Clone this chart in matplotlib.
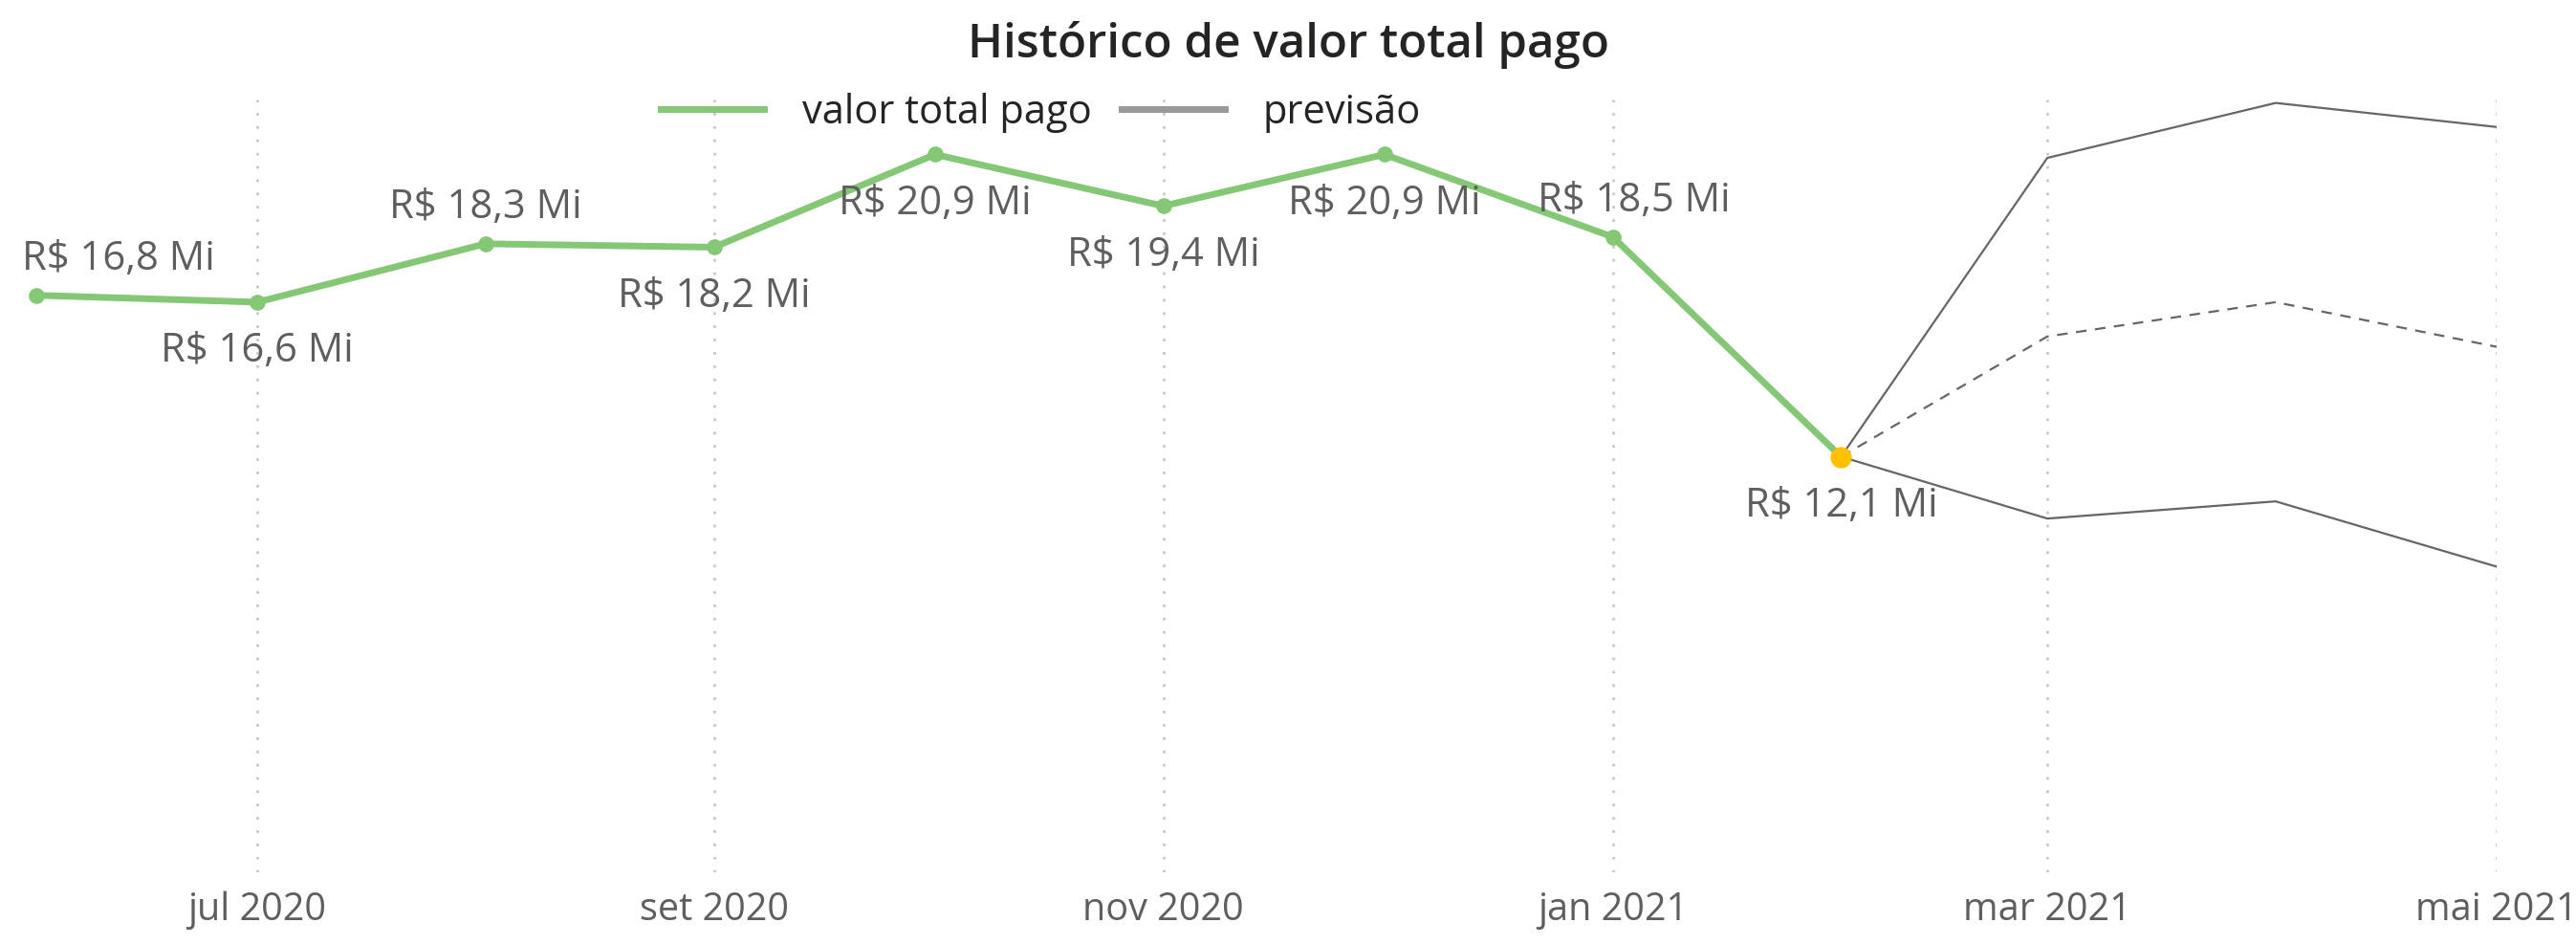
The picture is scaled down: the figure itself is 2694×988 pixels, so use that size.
import pandas as pd
import numpy as np
import matplotlib
matplotlib.use('Agg')
import matplotlib.pyplot as plt
import matplotlib.dates as mdates
from matplotlib.lines import Line2D

plt.rcParams['font.family'] = ['Open Sans', 'DejaVu Sans']

# dados (R$ milhões)
meses = pd.to_datetime(['2020-06-01', '2020-07-01', '2020-08-01', '2020-09-01', '2020-10-01',
                        '2020-11-01', '2020-12-01', '2021-01-01', '2021-02-01'])
valor_pago = [16.8, 16.6, 18.3, 18.2, 20.9, 19.4, 20.9, 18.5, 12.1]
rotulos = ['R$ 16,8 Mi', 'R$ 16,6 Mi', 'R$ 18,3 Mi', 'R$ 18,2 Mi', 'R$ 20,9 Mi',
           'R$ 19,4 Mi', 'R$ 20,9 Mi', 'R$ 18,5 Mi', 'R$ 12,1 Mi']

meses_prev = pd.to_datetime(['2021-02-01', '2021-03-01', '2021-04-01', '2021-05-01'])
prev_media = [12.1, 15.6, 16.6, 15.3]
prev_sup = [12.1, 20.8, 22.4, 21.7]
prev_inf = [12.1, 10.3, 10.8, 8.9]

ticks = pd.to_datetime(['2020-07-01', '2020-09-01', '2020-11-01', '2021-01-01',
                        '2021-03-01', '2021-05-01'])
tick_labels = ['jul 2020', 'set 2020', 'nov 2020', 'jan 2021', 'mar 2021', 'mai 2021']

VERDE = '#84C876'
CINZA = '#666666'
TXT = '#605E5C'

fig = plt.figure(figsize=(26.94, 9.88), dpi=100)
ax = fig.add_axes([0.0141, 0.0769, 0.9551, 0.8178])

# grade vertical pontilhada
for t in ticks:
    ax.axvline(t, color='#C8C8C8', linestyle=(0, (1, 4)), linewidth=2, zorder=0)

ax.plot(meses_prev, prev_sup, color=CINZA, linewidth=1.6, zorder=2)
ax.plot(meses_prev, prev_inf, color=CINZA, linewidth=1.6, zorder=2)
ax.plot(meses_prev, prev_media, color=CINZA, linewidth=1.6, linestyle=(0, (5, 4)), zorder=2)

ax.plot(meses, valor_pago, color=VERDE, linewidth=5, marker='o', markersize=11,
        zorder=3, clip_on=False)
ax.plot(meses[-1:], valor_pago[-1:], 'o', color='#FFC000', markersize=15, zorder=4)

# posição dos rótulos (offset em pontos)
offs = [(62, 12), (0, -22), (0, 12), (0, -22), (0, -22), (0, -22), (0, -22), (16, 12), (0, -22)]
for x, y, s, (dx, dy) in zip(meses, valor_pago, rotulos, offs):
    ax.annotate(s, (x, y), xytext=(dx, dy), textcoords='offset points',
                ha='center', va='bottom' if dy > 0 else 'top',
                fontsize=30, color=TXT, zorder=5)

ax.set_xlim(pd.Timestamp('2020-06-01'), pd.Timestamp('2021-05-01'))
ax.set_ylim(0, 22.5)
ax.set_xticks(ticks)
ax.set_xticklabels(tick_labels, fontsize=28.5, color=TXT)
ax.tick_params(axis='x', length=0, pad=14)
ax.set_yticks([])
for sp in ax.spines.values():
    sp.set_visible(False)

fig.text(0.5, 0.952, 'Histórico de valor total pago', ha='center', va='center',
         fontsize=35.5, fontweight='semibold', color='#252423')

handles = [Line2D([], [], color=VERDE, linewidth=5),
           Line2D([], [], color='#999999', linewidth=5)]
fig.legend(handles, ['valor total pago', 'previsão'], loc='center',
           bbox_to_anchor=(0.404, 0.881), ncol=2, frameon=False, fontsize=30,
           handlelength=2.6, columnspacing=0.75, handletextpad=0.95, labelcolor='#252423')

fig.savefig('out.png', dpi=100)
